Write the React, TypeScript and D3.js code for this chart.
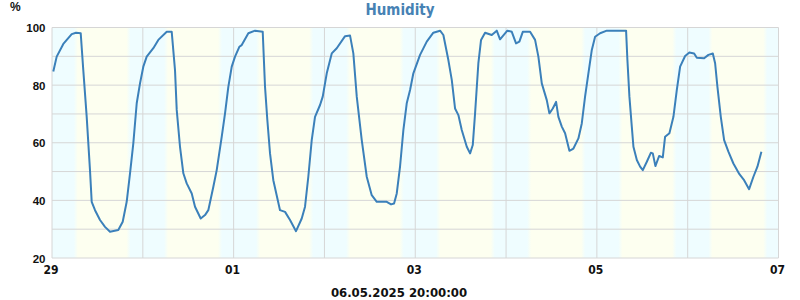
import React from "react";
import * as d3 from "d3";

const TITLE = "Humidity";
const UNIT = "%";
const FOOTER = "06.05.2025 20:00:00";
const START = Date.UTC(2025, 3, 29);
const END = Date.UTC(2025, 4, 7);

// hours since 29.04.2025 00:00
const hours = [
  0.34, 1.24, 2.99, 5.21, 6.34, 7.59, 8.27, 9.17, 10.04, 10.49, 11.37, 12.69, 14.01, 15.33, 17.52, 18.69,
  19.74, 20.62, 21.49, 22.39, 23.26, 24.13, 25.03, 26.78, 28.1, 30.32, 31.64, 32.51, 32.96, 33.83, 34.71,
  35.6, 36.93, 37.8, 39.3, 40.44, 41.31, 42.64, 43.53, 44.86, 45.73, 46.6, 47.5, 48.37, 49.51, 50.14,
  51.89, 53.66, 55.69, 56.3, 56.91, 57.62, 58.49, 60.26, 61.59, 62.91, 64.49, 66.0, 66.87, 67.74, 68.64,
  69.51, 70.84, 71.55, 72.61, 73.93, 75.25, 77.45, 78.77, 79.64, 80.54, 81.86, 83.18, 84.5, 85.83, 88.47,
  89.61, 90.4, 91.11, 91.98, 92.86, 93.75, 94.63, 95.5, 97.27, 99.04, 100.78, 102.56, 103.43, 104.75,
  105.65, 106.52, 107.4, 108.29, 109.62, 110.49, 111.2, 111.81, 112.68, 113.39, 114.45, 116.22, 117.54,
  118.41, 120.34, 121.51, 122.64, 123.52, 124.42, 126.35, 127.67, 128.54, 129.44, 130.76, 131.45, 132.35,
  133.22, 133.83, 134.73, 135.6, 136.74, 137.8, 139.12, 140.01, 140.88, 141.76, 142.66, 143.53, 144.85,
  146.62, 151.72, 152.07, 152.6, 153.23, 153.66, 154.56, 155.43, 156.14, 157.2, 158.26, 158.78, 159.47,
  160.45, 161.42, 162.03, 163.17, 164.23, 165.12, 166.0, 167.32, 168.45, 169.7, 170.41, 172.34, 173.48,
  174.64, 175.25, 175.86, 176.75, 177.63, 178.76, 180.08, 181.67, 182.91, 184.23, 185.37, 186.43, 187.48,
];

const humidity = [
  84.7, 89.9, 94.3, 97.7, 98.2, 98.0, 85.2, 69.0, 50.5, 39.5, 36.6, 33.2, 30.8, 29.1, 29.7, 32.6,
  39.5, 49.4, 59.8, 73.7, 80.6, 86.4, 89.9, 92.8, 95.7, 98.5, 98.5, 85.2, 71.4, 58.6, 49.4,
  45.9, 42.4, 37.8, 33.7, 34.9, 36.6, 44.7, 50.5, 62.1, 70.2, 79.4, 86.4, 89.9, 93.3, 93.9,
  98.0, 98.9, 98.5, 79.4, 67.9, 56.3, 47.0, 36.6, 36.0, 33.2, 29.3, 33.7, 37.8, 48.2, 60.9,
  69.0, 73.1, 76.0, 84.1, 91.0, 92.8, 97.0, 97.2, 91.0, 76.0, 60.9, 48.2, 41.8, 39.5, 39.5,
  38.6, 38.9, 42.4, 51.7, 64.4, 73.7, 78.3, 84.1, 90.5, 95.1, 98.2, 98.9, 97.4, 88.7,
  81.8, 71.9, 69.6, 64.4, 58.6, 56.3, 59.2, 70.2, 87.6, 95.7, 98.2, 97.4, 98.9,
  95.9, 98.9, 98.5, 94.5, 95.1, 98.5, 98.5, 95.7, 89.9, 80.6, 74.8, 70.2, 71.9,
  74.2, 69.0, 65.6, 63.3, 57.2, 58.0, 61.5, 66.7, 76.0, 84.1, 92.2, 96.8, 98.0,
  98.9, 98.9, 88.7, 76.0, 65.6, 58.6, 54.0, 51.7, 50.5, 53.4, 56.5, 56.3, 51.9,
  55.4, 54.9, 62.1, 63.3, 69.0, 78.3, 86.4, 90.1, 91.3, 91.0, 89.5, 89.3, 90.5,
  91.0, 87.6, 79.4, 69.0, 60.9, 56.9, 52.8, 49.1, 47.0, 43.9, 48.2, 51.7, 56.9,
];

// sunrise / sunset (hours of day) for 29.04 .. 06.05
const sunrise = [6.3, 6.15, 6.45, 6.25, 6.05, 6.1, 6.2, 6.0];
const sunset = [20.2, 20.4, 20.5, 20.45, 20.5, 20.4, 20.45, 20.5];

const yTicks = [20, 40, 60, 80, 100];
const yGrid = [20, 30, 40, 50, 60, 70, 80, 90, 100];

const W = 800, H = 300;
const L = 52, R = 778.5, T = 27.5, B = 258;
const NIGHT = "#effdff";
const DAY = "#fdfff0";
const GRID = "#d6d6d6";
const LINE = "#3b80ba";

export default function App() {
  const x = d3.scaleUtc().domain([new Date(START), new Date(END)]).range([L, R]);
  const y = d3.scaleLinear().domain([20, 100]).range([B, T]);
  const data = hours.map((h, i) => ({ t: new Date(START + h * 3600e3), v: humidity[i] }));
  const line = d3.line<{ t: Date; v: number }>().x((d) => x(d.t)).y((d) => y(d.v));
  const days = x.ticks(d3.utcDay.every(1)!);
  const labelDays = x.ticks(d3.utcDay.every(2)!);
  const fmt = d3.utcFormat("%d");

  // gradient stops for day/night bands
  const span = R - L;
  const stops: { o: number; c: string }[] = [{ o: 0, c: NIGHT }];
  const edge = 2;
  sunrise.forEach((sr, d) => {
    const a = x(new Date(START + (d * 24 + sr) * 3600e3));
    const b = x(new Date(START + (d * 24 + sunset[d]) * 3600e3));
    stops.push({ o: (a - edge - L) / span, c: NIGHT });
    stops.push({ o: (a + edge - L) / span, c: DAY });
    stops.push({ o: (b - edge - L) / span, c: DAY });
    stops.push({ o: (b + edge - L) / span, c: NIGHT });
  });
  stops.push({ o: 1, c: NIGHT });

  const bold = { fontWeight: "bold" as const };
  return (
    <svg width={W} height={H} style={{ position: "fixed", left: 0, top: 0, background: "#fff" }}>
      <defs>
        <linearGradient id="bands" gradientUnits="userSpaceOnUse" x1={L} x2={R} y1={0} y2={0}>
          {stops.map((s, i) => (
            <stop key={i} offset={Math.max(0, Math.min(1, s.o))} stopColor={s.c} />
          ))}
        </linearGradient>
      </defs>
      <rect x={L} y={T} width={R - L} height={B - T} fill="url(#bands)" />
      {yGrid.map((v) => (
        <line key={"h" + v} x1={L} x2={R} y1={y(v)} y2={y(v)} stroke={GRID} strokeWidth={1} />
      ))}
      {days.map((d, i) => (
        <line key={"v" + i} x1={x(d)} x2={x(d)} y1={T} y2={B} stroke={GRID} strokeWidth={1} />
      ))}
      <path d={line(data) || ""} fill="none" stroke={LINE} strokeWidth={2} strokeLinejoin="round" />
      {yTicks.map((v) => (
        <text key={"yt" + v} x={45.5} y={y(v) + 4.5} textAnchor="end" fontFamily="Liberation Sans, Arial" fontSize={11.5} {...bold} fill="#111">
          {v}
        </text>
      ))}
      <text x={10} y={11} fontFamily="Liberation Sans, Arial" fontSize={12} {...bold} fill="#111">{UNIT}</text>
      {labelDays.map((d, i) => (
        <text key={"xt" + i} x={x(d) - 1} y={274} textAnchor="middle" fontFamily="DejaVu Sans Condensed, DejaVu Sans" fontStretch="condensed" fontSize={12} {...bold} fill="#111">
          {fmt(d)}
        </text>
      ))}
      <text x={400} y={15} textAnchor="middle" fontFamily="DejaVu Sans Condensed, DejaVu Sans" fontStretch="condensed" fontSize={15} {...bold} fill="#4682b4">
        {TITLE}
      </text>
      <text x={399} y={297} textAnchor="middle" fontFamily="DejaVu Sans Condensed, DejaVu Sans" fontStretch="condensed" fontSize={13} {...bold} fill="#111">
        {FOOTER}
      </text>
    </svg>
  );
}
